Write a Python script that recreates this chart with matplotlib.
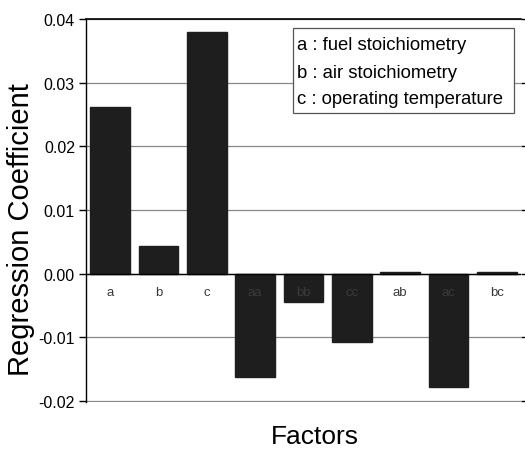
import matplotlib
matplotlib.use("Agg")
import matplotlib.pyplot as plt
from matplotlib.patches import Rectangle

factors = ["a", "b", "c", "aa", "bb", "cc", "ab", "ac", "bc"]
coefficients = [0.0262, 0.0044, 0.0380, -0.0162, -0.0044, -0.0108, 0.0002, -0.0178, 0.0002]
yticks = [-0.02, -0.01, 0.00, 0.01, 0.02, 0.03, 0.04]
legend_lines = ["a : fuel stoichiometry", "b : air stoichiometry", "c : operating temperature"]

plt.rcParams['font.family'] = ['Liberation Sans', 'DejaVu Sans']

W, H = 525, 456
L, R, T, B = 86, 521, 20, 403
fig = plt.figure(figsize=(W/100, H/100), dpi=100)
ax = fig.add_axes([L/W, 1-B/H, (R-L)/W, (B-T)/H])

def ax_x(px):
    return (px - L) / (R - L)

def ax_y(py):
    return 1 - (py - T) / (B - T)

x = list(range(len(factors)))
ax.bar(x, coefficients, width=0.82, color='#1e1e1e', edgecolor='#1e1e1e', zorder=3)
ax.axhline(0, color='black', lw=1.0, zorder=4)

ax.set_xlim(-0.5, len(factors) - 0.5)
ax.set_ylim(-0.02015, 0.04)
ax.set_yticks(yticks)
ax.set_yticklabels([f"{v:.2f}" for v in yticks], fontsize=11.5)
ax.set_xticks([])
ax.yaxis.grid(True, color='#888888', lw=0.9, zorder=0)

for i, lab in enumerate(factors):
    ax.annotate(lab, (i, 0), xytext=(0, -9), textcoords='offset points',
                ha='center', va='top', fontsize=9.5, color='#3a3a3a', zorder=5)

for s in ['right', 'bottom']:
    ax.spines[s].set_visible(False)
ax.spines['top'].set_linewidth(1.2)
ax.spines['left'].set_linewidth(1.0)
ax.tick_params(axis='y', direction='out', length=5, width=1, pad=3)
ax.tick_params(axis='y', right=True, labelright=False)
for tick in ax.yaxis.get_major_ticks():
    tick.tick2line.set_markersize(3)

fig.text(21/W, 1-230/H, "Regression Coefficient", fontsize=21, rotation=90,
         ha='center', va='center')
fig.text(315/W, 1-437/H, "Factors", fontsize=19, ha='center', va='center')

# legend-like text box
x0, x1 = ax_x(293), ax_x(514)
y0, y1 = ax_y(114), ax_y(29)
ax.add_patch(Rectangle((x0, y0), x1 - x0, y1 - y0, transform=ax.transAxes,
                       facecolor='white', edgecolor='#555555', lw=0.9, zorder=6))
for line, py in zip(legend_lines, [46, 73, 99]):
    ax.text(ax_x(297), ax_y(py), line, transform=ax.transAxes, ha='left', va='center',
            fontsize=13.3, zorder=7)

fig.savefig("out.png", dpi=100)
